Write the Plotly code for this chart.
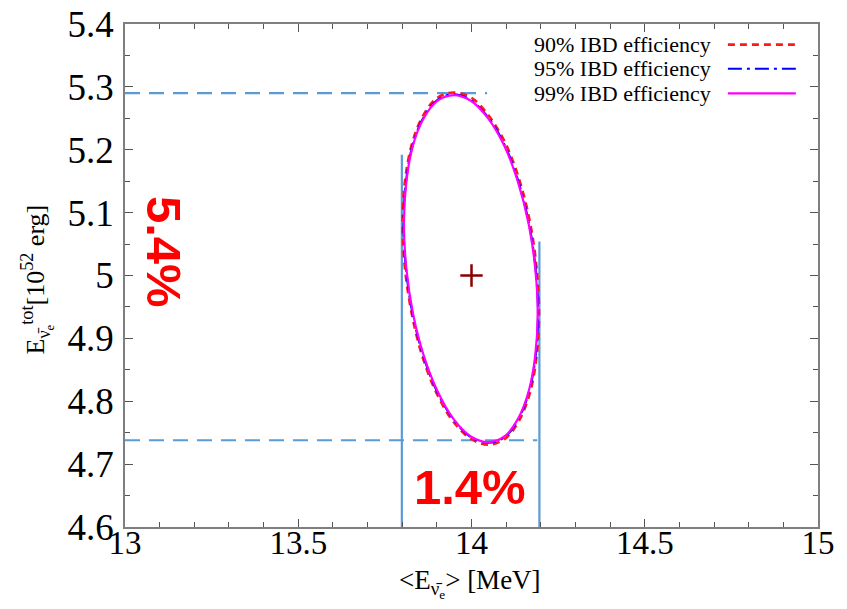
import plotly.graph_objects as go

# Confidence contours in the (<E>, E_tot) plane for three IBD efficiencies
eff_labels = ["90% IBD efficiency", "95% IBD efficiency", "99% IBD efficiency"]

x_90 = [14.195, 14.188, 14.169, 14.138, 14.098, 14.050, 13.999, 13.947, 13.900, 13.859,
        13.828, 13.808, 13.801, 13.808, 13.828, 13.859, 13.900, 13.947, 13.999, 14.050,
        14.098, 14.138, 14.169, 14.188, 14.195]
y_90 = [4.938, 5.011, 5.084, 5.152, 5.210, 5.254, 5.283, 5.291, 5.282, 5.253,
        5.209, 5.150, 5.084, 5.011, 4.938, 4.870, 4.812, 4.768, 4.740, 4.731,
        4.741, 4.770, 4.814, 4.872, 4.938]

x_95 = [14.192, 14.185, 14.166, 14.135, 14.096, 14.049, 13.998, 13.948, 13.901, 13.861,
        13.830, 13.811, 13.804, 13.811, 13.830, 13.861, 13.901, 13.948, 13.998, 14.049,
        14.096, 14.135, 14.166, 14.185, 14.192]
y_95 = [4.939, 5.011, 5.082, 5.150, 5.207, 5.251, 5.279, 5.288, 5.279, 5.251,
        5.207, 5.149, 5.083, 5.011, 4.939, 4.872, 4.815, 4.771, 4.743, 4.734,
        4.743, 4.771, 4.815, 4.872, 4.939]

x_99 = [14.191, 14.184, 14.165, 14.134, 14.095, 14.048, 13.998, 13.948, 13.902, 13.862,
        13.831, 13.812, 13.805, 13.812, 13.831, 13.862, 13.902, 13.948, 13.998, 14.048,
        14.095, 14.134, 14.165, 14.184, 14.191]
y_99 = [4.939, 5.011, 5.082, 5.149, 5.206, 5.250, 5.278, 5.287, 5.278, 5.250,
        5.207, 5.149, 5.083, 5.011, 4.940, 4.873, 4.816, 4.772, 4.744, 4.735,
        4.744, 4.772, 4.816, 4.873, 4.939]

# True parameter point
true_x = [14.0]
true_y = [5.0]

# Extent guide lines
e_tot_upper = 5.290
e_tot_lower = 4.738
e_mean_left = 13.799
e_mean_right = 14.196
upper_guide_end = 14.045
lower_guide_end = 14.190
left_guide_top = 5.192
right_guide_top = 5.054

x_range = [13, 15]
y_range = [4.6, 5.4]

serif = "Liberation Serif"
sans = "Liberation Sans"
guide_color = "#5b9bd5"

fig = go.Figure()

# Guide lines
fig.add_trace(go.Scatter(x=[x_range[0], upper_guide_end], y=[e_tot_upper, e_tot_upper],
                         mode="lines", line=dict(color=guide_color, width=2.2, dash="15px,9px"),
                         showlegend=False, hoverinfo="skip"))
fig.add_trace(go.Scatter(x=[x_range[0], lower_guide_end], y=[e_tot_lower, e_tot_lower],
                         mode="lines", line=dict(color=guide_color, width=2.2, dash="15px,9px"),
                         showlegend=False, hoverinfo="skip"))
fig.add_trace(go.Scatter(x=[e_mean_left, e_mean_left], y=[y_range[0], left_guide_top],
                         mode="lines", line=dict(color=guide_color, width=2.2),
                         showlegend=False, hoverinfo="skip"))
fig.add_trace(go.Scatter(x=[e_mean_right, e_mean_right], y=[y_range[0], right_guide_top],
                         mode="lines", line=dict(color=guide_color, width=2.2),
                         showlegend=False, hoverinfo="skip"))

# Contours
styles = [
    dict(color="#ff1a1a", width=2.6, dash="7px,5px"),
    dict(color="#0000ff", width=2.2, dash="14px,5px,3px,5px"),
    dict(color="#ff00ff", width=2.2),
]
for xs, ys, st, name in zip([x_90, x_95, x_99], [y_90, y_95, y_99], styles, eff_labels):
    fig.add_trace(go.Scatter(x=xs, y=ys, mode="lines", line=dict(shape="spline", **st),
                             name=name, showlegend=False))

fig.add_trace(go.Scatter(x=true_x, y=true_y, mode="markers",
                         marker=dict(symbol="cross-thin", size=16,
                                     line=dict(color="#8b0000", width=2.5)),
                         showlegend=False))

# Hand-built legend: text right-aligned, line sample to its right
legend_rows_y = [0.959, 0.911, 0.862]
for name, st, yy in zip(eff_labels, styles, legend_rows_y):
    fig.add_annotation(x=0.849, y=yy, xref="paper", yref="paper", text=name,
                       showarrow=False, xanchor="right", yanchor="middle",
                       font=dict(family=serif, size=22, color="black"))
    fig.add_shape(type="line", xref="paper", yref="paper", x0=0.870, x1=0.968,
                  y0=yy, y1=yy, line=st)

# Percentage labels
fig.add_annotation(x=0.0, y=0.0, xref="paper", yref="paper", text="<b>5.4%</b>",
                   showarrow=False, textangle=90, xanchor="center", yanchor="middle",
                   xshift=164 - 125, yshift=527 - 252,
                   font=dict(family=sans, size=49, color="#ff0000"))
fig.add_annotation(x=0.0, y=0.0, xref="paper", yref="paper", text="<b>1.4%</b>",
                   showarrow=False, xanchor="center", yanchor="middle",
                   xshift=470 - 125, yshift=527 - 487,
                   font=dict(family=sans, size=49, color="#ff0000"))

# Axis titles
fig.add_annotation(x=0.0, y=0.5, xref="paper", yref="paper",
                   text="E<sub>ν̄<sub>e</sub></sub><sup>tot</sup>[10<sup>52</sup> erg]",
                   showarrow=False, textangle=-90, xanchor="center", yanchor="middle",
                   xshift=37 - 125, yshift=-(279 - 275),
                   font=dict(family=serif, size=26, color="black"))
fig.add_annotation(x=0.5, y=0.0, xref="paper", yref="paper",
                   text="&lt;E<sub>ν̄<sub>e</sub></sub>&gt; [MeV]",
                   showarrow=False, xanchor="center", yanchor="middle",
                   xshift=470 - 471.5, yshift=-(583 - 527),
                   font=dict(family=serif, size=27, color="black"))

axis_common = dict(showline=True, linecolor="#7f7f7f", linewidth=1.5, mirror="allticks",
                   ticks="inside", ticklen=8, tickcolor="#555555", tickwidth=1.2,
                   showgrid=False, zeroline=False, automargin=False)

fig.update_xaxes(range=x_range, tick0=13, dtick=0.5, ticklabelstandoff=-14,
                 tickfont=dict(family=serif, size=33, color="black"),
                 minor=dict(dtick=0.1, ticks="inside", ticklen=5, tickcolor="#555555", tickwidth=1.1),
                 **axis_common)
fig.update_yaxes(range=y_range, tick0=4.6, dtick=0.1, ticklabelstandoff=2,
                 tickfont=dict(family=serif, size=37, color="black"),
                 minor=dict(dtick=0.05, ticks="inside", ticklen=5, tickcolor="#555555", tickwidth=1.1),
                 **axis_common)

fig.update_layout(width=847, height=609, margin=dict(l=125, r=29, t=24, b=82, autoexpand=False),
                  plot_bgcolor="white", paper_bgcolor="white", showlegend=False,
                  font=dict(family=serif))

fig.write_html("out.html")
